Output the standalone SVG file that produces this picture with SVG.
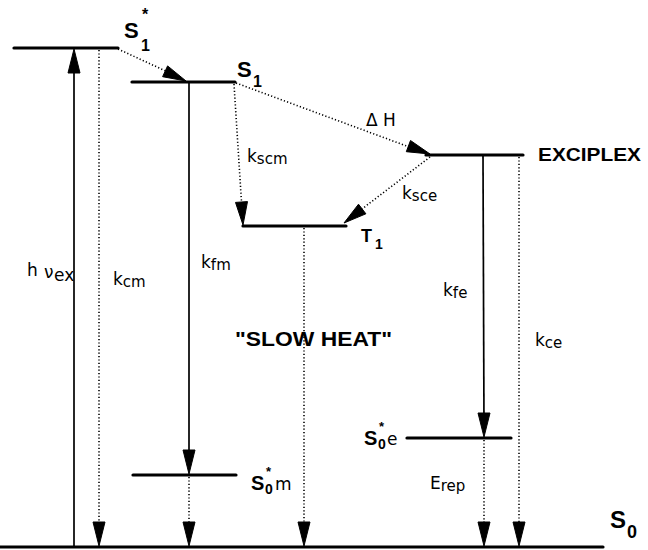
<svg xmlns="http://www.w3.org/2000/svg" width="648" height="550" viewBox="0 0 648 550">
<defs>
<style>
.lvl{stroke:#000;stroke-width:3.2;fill:none;stroke-linecap:round}
.sol{stroke:#000;stroke-width:1.7;fill:none}
.dot{stroke:#000;stroke-width:1.6;fill:none;stroke-dasharray:1.2 2.2}
.head{fill:#000;stroke:#000;stroke-width:1;stroke-linejoin:round}
.lab{font-family:"DejaVu Sans","Liberation Sans",sans-serif;font-size:17px;fill:#000}
.bold{font-family:"Liberation Sans","DejaVu Sans",sans-serif;font-weight:bold;fill:#000}
.sub{font-size:15px}
</style>
</defs>
<rect width="648" height="550" fill="#fff"/>

<g id="level-S1star"><line class="lvl" x1="14" y1="48" x2="118" y2="48"/>
<text class="bold" x="124" y="38" font-size="22">S</text><text class="bold" x="141" y="51" font-size="16">1</text><text class="bold" x="142" y="20" font-size="16">*</text></g>

<g id="level-S1"><line class="lvl" x1="132" y1="82" x2="235" y2="82"/>
<text class="bold" x="237" y="77" font-size="22">S</text><text class="bold" x="253" y="87" font-size="16">1</text></g>

<g id="level-exciplex"><line class="lvl" x1="426" y1="155" x2="523" y2="155"/>
<text class="bold" x="538" y="161" font-size="19" textLength="103" lengthAdjust="spacingAndGlyphs">EXCIPLEX</text></g>

<g id="level-T1"><line class="lvl" x1="243" y1="226" x2="346" y2="226"/>
<text class="bold" x="361" y="242" font-size="18">T</text><text class="bold" x="375" y="249" font-size="14">1</text></g>

<g id="level-S0m"><line class="lvl" x1="133" y1="475" x2="236" y2="475"/>
<text class="bold" x="251" y="490" font-size="20">S</text><text class="bold" x="266" y="476" font-size="13">*</text><text class="bold" x="265" y="494" font-size="14">0</text><text class="lab" x="275" y="490">m</text></g>

<g id="level-S0e"><line class="lvl" x1="407" y1="438" x2="511" y2="438"/>
<text class="bold" x="364" y="445" font-size="20">S</text><text class="bold" x="379" y="431" font-size="13">*</text><text class="bold" x="378" y="449" font-size="14">0</text><text class="lab" x="387" y="445" font-size="15">e</text></g>

<g id="level-S0"><line class="lvl" x1="0" y1="547" x2="603" y2="547"/>
<text class="bold" x="610" y="528" font-size="24">S</text><text class="bold" x="627" y="538" font-size="18">0</text></g>

<g id="connectors">
<line class="sol" x1="74" y1="547" x2="74" y2="60"/>
<polygon class="head" points="74,49 68,73 80,73"/>
<line class="dot" x1="99" y1="50" x2="99" y2="530"/>
<polygon class="head" points="99,546 93,522 105,522"/>
<line class="sol" x1="189" y1="83" x2="189" y2="460"/>
<polygon class="head" points="189,474 183,450 195,450"/>
<line class="dot" x1="189" y1="477" x2="189" y2="530"/>
<polygon class="head" points="189,546 183,522 195,522"/>
<line class="dot" x1="118" y1="49" x2="170" y2="73"/>
<polygon class="head" points="186,81 162.6,76.7 167.6,65.9"/>
<line class="dot" x1="234" y1="84" x2="242" y2="210"/>
<polygon class="head" points="243,225 235.5,202.4 247.5,201.6"/>
<line class="dot" x1="236" y1="83" x2="412" y2="148"/>
<polygon class="head" points="430,154 406.3,151.7 410.5,140.5"/>
<line class="dot" x1="430" y1="157" x2="358" y2="212"/>
<polygon class="head" points="344,223 358.5,204.2 365.9,213.8"/>
<line class="dot" x1="304" y1="228" x2="304" y2="530"/>
<polygon class="head" points="304,546 298,522 310,522"/>
<line class="sol" x1="483" y1="156" x2="484" y2="425"/>
<polygon class="head" points="484,437 478,413 490,413"/>
<line class="dot" x1="484" y1="440" x2="484" y2="530"/>
<polygon class="head" points="484,546 478,522 490,522"/>
<line class="dot" x1="519" y1="157" x2="519" y2="530"/>
<polygon class="head" points="519,546 513,522 525,522"/>
</g>

<g id="labels">
<text class="lab" x="27" y="276" font-size="20">h</text><text class="lab" x="44" y="278" font-size="19">ν</text><text class="lab" x="54" y="281" font-size="14">ex</text>
<text class="lab" x="113" y="285">k<tspan class="sub" dy="2">cm</tspan></text>
<text class="lab" x="201" y="268">k<tspan class="sub" dy="2">fm</tspan></text>
<text class="lab" x="247" y="162">k<tspan class="sub" dy="2">scm</tspan></text>
<text class="lab" x="366" y="126" font-size="21">Δ H</text>
<text class="lab" x="402" y="199">k<tspan class="sub" dy="2">sce</tspan></text>
<text class="lab" x="443" y="296">k<tspan class="sub" dy="2">fe</tspan></text>
<text class="lab" x="535" y="346">k<tspan class="sub" dy="2">ce</tspan></text>
<text class="lab" x="430" y="489">E<tspan class="sub" dy="2">rep</tspan></text>
<text class="bold" x="235" y="346" font-size="21" textLength="157" lengthAdjust="spacingAndGlyphs">"SLOW HEAT"</text>
</g>
</svg>
